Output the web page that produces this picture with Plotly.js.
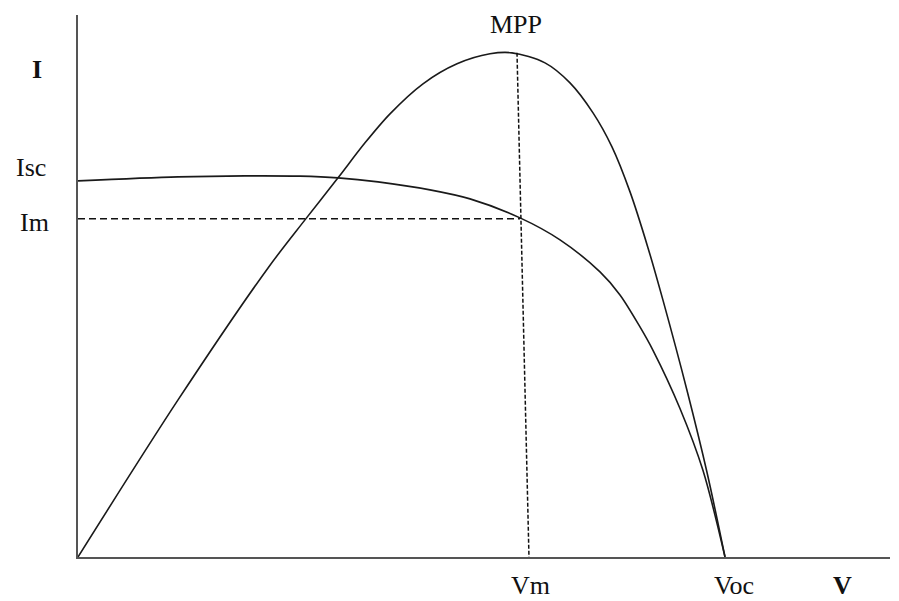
<!DOCTYPE html>
<html>
<head>
<meta charset="utf-8">
<script src="https://cdn.plot.ly/plotly-3.0.1.min.js"></script>
<style>html,body{margin:0;padding:0;background:#fff}#chart{width:899px;height:601px}</style>
</head>
<body>
<div id="chart"></div>
<script>
// Normalized voltage (Voc = 1) and current (Isc = 1); power shown on the same scale
const ivVoltage = [0, 0.1546, 0.2581, 0.3431, 0.4019, 0.4637, 0.5440, 0.6059, 0.6832, 0.7450, 0.8068, 0.8377, 0.8686, 0.8887, 0.9304, 0.9660, 1.0];
const ivCurrent = [1.000, 1.0106, 1.0133, 1.0125, 1.0080, 0.9973, 0.9761, 0.9521, 0.9016, 0.8431, 0.7580, 0.6968, 0.6117, 0.5495, 0.3949, 0.2298, 0];
const pvVoltage = [0, 0.1546, 0.2937, 0.3508, 0.4019, 0.4436, 0.4822, 0.5332, 0.5858, 0.6368, 0.6708, 0.7218, 0.7604, 0.7960, 0.8253, 0.8532, 0.8810, 0.9042, 0.9413, 0.9722, 1.0];
const pvPower   = [0, 0.4176, 0.7686, 0.8963, 1.0080, 1.1011, 1.1782, 1.2580, 1.3112, 1.3378, 1.3404, 1.3138, 1.2606, 1.1809, 1.0904, 0.9707, 0.8218, 0.6822, 0.4428, 0.2247, 0];
// Maximum power point guides
const mppVoltageTop = 0.6785, mppVoltageBottom = 0.6970, mppPower = 1.3404;
const imCurrent = 0.8990, imVoltage = 0.6832;
const xRange = [0, 1.255];
const yRange = [0, 1.441];

const lineStyle = {color: '#1a1a1a', width: 1.6, shape: 'spline', smoothing: 0.9};
const traces = [
  {x: ivVoltage, y: ivCurrent, mode: 'lines', line: lineStyle, hoverinfo: 'skip'},
  {x: pvVoltage, y: pvPower, mode: 'lines', line: lineStyle, hoverinfo: 'skip'},
  {x: [0, imVoltage], y: [imCurrent, imCurrent], mode: 'lines',
   line: {color: '#111', width: 1.5, dash: '7px,4px'}, hoverinfo: 'skip'},
  {x: [mppVoltageTop, mppVoltageBottom], y: [mppPower, 0], mode: 'lines',
   line: {color: '#111', width: 1.5, dash: '4px,2px'}, hoverinfo: 'skip'}
];

const PL = 78, PR = 890, PT = 15, PB = 557;
const serif = 'Liberation Serif, Times New Roman, serif';
function lab(text, px, py, bold) {
  return {text: bold ? '<b>' + text + '</b>' : text,
    x: (px - PL) / (PR - PL), y: (PB - py) / (PB - PT), xref: 'paper', yref: 'paper',
    showarrow: false, xanchor: 'center', yanchor: 'middle',
    font: {family: serif, size: 26, color: '#111'}};
}

const layout = {
  width: 899, height: 601,
  margin: {l: PL, r: 899 - PR, t: PT, b: 601 - PB},
  paper_bgcolor: '#fff', plot_bgcolor: '#fff',
  showlegend: false,
  xaxis: {range: xRange, showline: true, linecolor: '#555', linewidth: 2, showgrid: false,
          zeroline: false, showticklabels: false, ticks: '', fixedrange: true},
  yaxis: {range: yRange, showline: true, linecolor: '#555', linewidth: 2, showgrid: false,
          zeroline: false, showticklabels: false, ticks: '', fixedrange: true},
  annotations: [
    lab('MPP', 516, 25),
    lab('I', 37, 70, true),
    lab('Isc', 31, 167),
    lab('Im', 34, 222),
    lab('Vm', 530, 585),
    lab('Voc', 734, 585),
    lab('V', 842, 585, true)
  ]
};
Plotly.newPlot('chart', traces, layout, {staticPlot: true});
</script>
</body>
</html>
